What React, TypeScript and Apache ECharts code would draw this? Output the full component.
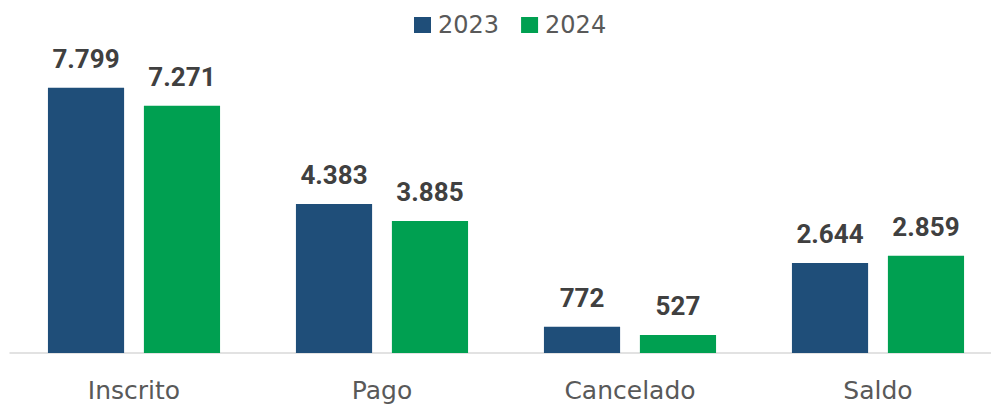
import React, { useEffect, useRef } from "react";
import * as echarts from "echarts";

const categories = ["Inscrito", "Pago", "Cancelado", "Saldo"];
const seriesNames = ["2023", "2024"];
const values2023 = [7799, 4383, 772, 2644];
const values2024 = [7271, 3885, 527, 2859];
const colors = ["#1F4E79", "#00A051"];

const fmt = (v: number) => String(v).replace(/\B(?=(\d{3})+(?!\d))/g, ".");

export default function App() {
  const ref = useRef<HTMLDivElement>(null);
  useEffect(() => {
    if (!ref.current) return;
    const chart = echarts.init(ref.current, undefined, { renderer: "svg" });
    const labelStyle = {
      show: true,
      position: "top" as const,
      distance: 16,
      fontFamily: "Roboto",
      fontWeight: "bold" as const,
      fontSize: 26,
      color: "#404040",
      formatter: (p: any) => fmt(p.value),
    };
    chart.setOption({
      animation: false,
      backgroundColor: "#ffffff",
      legend: {
        top: 13,
        left: 414,
        padding: 0,
        itemWidth: 17,
        itemHeight: 16,
        itemGap: 22,
        icon: "rect",
        textStyle: { fontFamily: "DejaVu Sans", fontSize: 24, color: "#595959", padding: [0, 0, 0, 2] },
        data: seriesNames,
      },
      grid: { left: 10, width: 992, top: 13, height: 340, containLabel: false },
      xAxis: {
        type: "category",
        data: categories,
        axisLine: { show: true, lineStyle: { color: "#D9D9D9", width: 1.5 } },
        axisTick: { show: false },
        axisLabel: { fontFamily: "DejaVu Sans", fontSize: 25, color: "#595959", margin: 25 },
      },
      yAxis: {
        type: "value",
        min: 0,
        max: 10000,
        show: false,
        splitLine: { show: false },
      },
      series: [
        {
          name: seriesNames[0],
          type: "bar",
          data: values2023,
          itemStyle: { color: colors[0] },
          barGap: "26%",
          barCategoryGap: "30.6%",
          label: labelStyle,
        },
        {
          name: seriesNames[1],
          type: "bar",
          data: values2024,
          itemStyle: { color: colors[1] },
          barGap: "26%",
          barCategoryGap: "30.6%",
          label: labelStyle,
        },
      ],
    });
    return () => chart.dispose();
  }, []);
  return (
    <div
      style={{ position: "fixed", left: 0, top: 0, width: 991, height: 404, overflow: "hidden", background: "#fff" }}
    >
      <div ref={ref} style={{ width: 1012, height: 404 }} />
    </div>
  );
}
